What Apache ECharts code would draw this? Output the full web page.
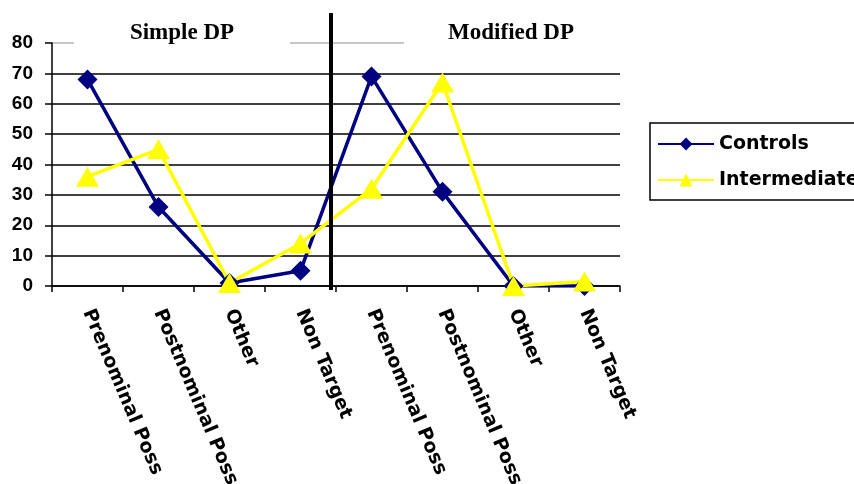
<!DOCTYPE html>
<html>
<head>
<meta charset="utf-8">
<script src="https://cdn.jsdelivr.net/npm/echarts@6/dist/echarts.min.js"></script>
<style>html,body{margin:0;padding:0;background:#fff}#c{width:854px;height:484px}</style>
</head>
<body>
<div id="c"></div>
<script>
const categories = ['Prenominal Poss', 'Postnominal Poss', 'Other', 'Non Target',
                    'Prenominal Poss', 'Postnominal Poss', 'Other', 'Non Target'];
const controls = [68, 26, 1, 5, 69, 31, 0, 0];
const intermediate = [36, 45, 1, 14, 32, 67, 0, 1.5];
const yTicks = [0, 10, 20, 30, 40, 50, 60, 70, 80];
const seriesNames = ['Controls', 'Intermediate'];
const panelTitles = ['Simple DP', 'Modified DP'];

const chart = echarts.init(document.getElementById('c'), null, {renderer: 'canvas'});
const gridColors = yTicks.map((v, i) => i === yTicks.length - 1 ? '#b4b4b4' : '#000');

chart.setOption({
  animation: false,
  backgroundColor: '#fff',
  grid: {left: 52, right: 234, top: 43, bottom: 198, containLabel: false, outerBoundsMode: 'none'},
  legend: {
    data: seriesNames,
    orient: 'vertical',
    left: 650, top: 123,
    itemWidth: 56, itemHeight: 16, itemGap: 16,
    padding: [11, 12, 10, 7],
    borderColor: '#000', borderWidth: 1.5,
    textStyle: {color: '#000', fontWeight: 'bold', fontSize: 19, fontFamily: 'DejaVu Sans', lineHeight: 20}
  },
  xAxis: {
    type: 'category',
    data: categories,
    boundaryGap: true,
    axisLine: {lineStyle: {color: '#000', width: 1.5}},
    axisTick: {show: true, length: 6, interval: 0, lineStyle: {color: '#000', width: 1.5}},
    axisLabel: {
      interval: 0, rotate: -67, margin: 24,
      color: '#000', fontWeight: 'bold', fontSize: 19, fontFamily: 'DejaVu Sans'
    }
  },
  yAxis: {
    type: 'value', min: 0, max: 80, interval: 10,
    axisLine: {show: true, lineStyle: {color: '#000', width: 1.5}},
    axisTick: {show: true, inside: false, length: 7, lineStyle: {color: '#000', width: 1.5}},
    axisLabel: {margin: 19, color: '#000', fontWeight: 'bold', fontSize: 19, fontFamily: 'Liberation Sans, Arial'},
    splitLine: {show: true, lineStyle: {color: gridColors, width: 1.5}}
  },
  series: [
    {
      name: seriesNames[0], type: 'line', data: controls,
      symbol: 'diamond', symbolSize: 20,
      lineStyle: {color: '#000080', width: 3.5},
      itemStyle: {color: '#000080'}
    },
    {
      name: seriesNames[1], type: 'line', data: intermediate,
      symbol: 'triangle', symbolSize: [23, 20],
      lineStyle: {color: '#ffff00', width: 3.5},
      itemStyle: {color: '#ffff00'}
    }
  ],
  graphic: [
    {type: 'rect', shape: {x: 74, y: 37, width: 216, height: 12}, style: {fill: '#fff'}, z: 50},
    {type: 'rect', shape: {x: 404, y: 37, width: 222, height: 12}, style: {fill: '#fff'}, z: 50},
    {type: 'line', shape: {x1: 331, y1: 13, x2: 331, y2: 290}, style: {stroke: '#000', lineWidth: 4}, z: 60},
    {type: 'text', x: 182, y: 33, z: 70, style: {text: panelTitles[0], fill: '#000', font: 'bold 23px "Liberation Serif", "Times New Roman", serif', align: 'center', verticalAlign: 'middle'}},
    {type: 'text', x: 511, y: 33, z: 70, style: {text: panelTitles[1], fill: '#000', font: 'bold 23px "Liberation Serif", "Times New Roman", serif', align: 'center', verticalAlign: 'middle'}}
  ]
});
</script>
</body>
</html>
